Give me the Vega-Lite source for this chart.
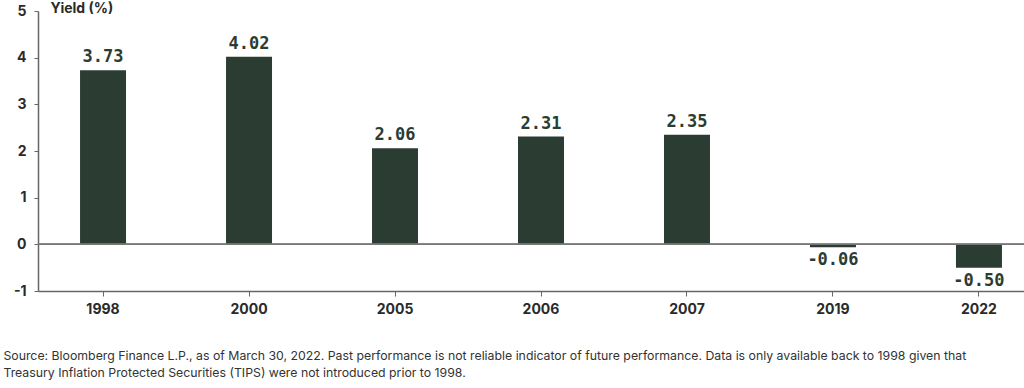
{
  "$schema": "https://vega.github.io/schema/vega-lite/v6.json",
  "width": 986,
  "height": 280,
  "autosize": {"type": "none"},
  "padding": {"left": 38, "top": 11, "right": 0, "bottom": 97},
  "background": "#ffffff",
  "config": {
    "view": {"stroke": null},
    "font": "Inter"
  },
  "title": {
    "text": "Source: Bloomberg Finance L.P., as of March 30, 2022. Past performance is not reliable indicator of future performance. Data is only available back to 1998 given that",
    "subtitle": "Treasury Inflation Protected Securities (TIPS) were not introduced prior to 1998.",
    "orient": "bottom",
    "anchor": "start",
    "dx": -10,
    "offset": 34,
    "font": "Inter",
    "fontSize": 12.3,
    "fontWeight": "normal",
    "color": "#333333",
    "subtitleFont": "Inter",
    "subtitleFontSize": 12.3,
    "subtitleColor": "#333333",
    "subtitlePadding": 5
  },
  "data": {
    "values": [
      {"year": "1998", "yield": 3.73, "label": "3.73"},
      {"year": "2000", "yield": 4.02, "label": "4.02"},
      {"year": "2005", "yield": 2.06, "label": "2.06"},
      {"year": "2006", "yield": 2.31, "label": "2.31"},
      {"year": "2007", "yield": 2.35, "label": "2.35"},
      {"year": "2019", "yield": -0.06, "label": "-0.06"},
      {"year": "2022", "yield": -0.5, "label": "-0.50"}
    ]
  },
  "encoding": {
    "x": {
      "field": "year",
      "type": "nominal",
      "sort": null,
      "scale": {"range": [0, 1006], "paddingInner": 0.685, "paddingOuter": 0.288},
      "axis": {
        "title": null,
        "labelAngle": 0,
        "labelFont": "Inter",
        "labelFontSize": 14,
        "labelFontWeight": "bold",
        "labelColor": "#2a2a2a",
        "labelPadding": 6,
        "tickSize": 5,
        "tickColor": "#666666",
        "domainColor": "#666666",
        "domainWidth": 1.5
      }
    },
    "y": {
      "field": "yield",
      "type": "quantitative",
      "scale": {"domain": [-1, 5], "nice": false},
      "axis": {
        "title": "Yield (%)",
        "titleAngle": 0,
        "titleAlign": "left",
        "titleBaseline": "middle",
        "titleX": 12,
        "titleY": -3,
        "titleFont": "Inter",
        "titleFontSize": 14,
        "titleFontWeight": "bold",
        "titleColor": "#2a2a2a",
        "values": [-1, 0, 1, 2, 3, 4, 5],
        "labelExpr": "replace(datum.label, '−', '-')",
        "grid": false,
        "labelFont": "Inter",
        "labelFontSize": 14,
        "labelFontWeight": "bold",
        "labelColor": "#2a2a2a",
        "labelPadding": 8,
        "tickSize": 4,
        "tickColor": "#666666",
        "domainColor": "#666666",
        "domainWidth": 1.5
      }
    }
  },
  "layer": [
    {
      "mark": {"type": "bar", "color": "#2b3c33"}
    },
    {
      "mark": {"type": "rule", "color": "#777777", "strokeWidth": 1.2},
      "encoding": {"y": {"datum": 0}, "x": null}
    },
    {
      "transform": [{"filter": "datum.yield >= 0"}],
      "mark": {"type": "text", "baseline": "bottom", "dy": -4, "font": "DejaVu Sans Mono", "fontSize": 17, "fontWeight": "bold", "color": "#2b3c33"},
      "encoding": {"text": {"field": "label"}}
    },
    {
      "transform": [{"filter": "datum.yield < 0"}],
      "mark": {"type": "text", "baseline": "top", "dy": 5, "font": "DejaVu Sans Mono", "fontSize": 17, "fontWeight": "bold", "color": "#2b3c33"},
      "encoding": {"text": {"field": "label"}}
    }
  ]
}
